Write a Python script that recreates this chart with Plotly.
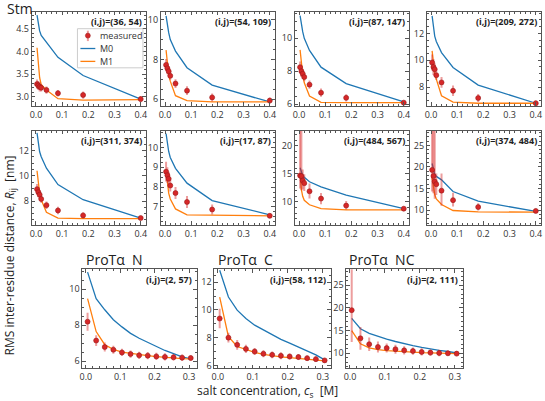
import plotly.graph_objects as go

W, H = 545, 401

# ---------------- data ----------------
x_stm = [0.004, 0.009, 0.014, 0.02, 0.04, 0.084, 0.18, 0.4]
x_prot = [0.005, 0.03, 0.055, 0.08, 0.105, 0.13, 0.155, 0.18, 0.205, 0.23, 0.255, 0.28, 0.305]

# Stm (36, 54)
p1_meas = [3.28, 3.25, 3.22, 3.20, 3.15, 3.08, 3.04, 2.95]
p1_err = [0.10, 0.10, 0.10, 0.08, 0.08, 0.07, 0.08, 0.07]
p1_m0 = [4.80, 4.58, 4.45, 4.35, 4.20, 3.87, 3.47, 2.95]
p1_m1 = [4.08, 3.70, 3.42, 3.27, 3.15, 2.96, 2.93, 2.94]

# Stm (54, 109)
p2_meas = [7.72, 7.55, 7.40, 7.17, 6.78, 6.42, 6.08, 5.92]
p2_err = [0.30, 0.30, 0.25, 0.20, 0.22, 0.22, 0.20, 0.15]
p2_m0 = [10.2, 9.7, 9.35, 9.0, 8.42, 7.58, 6.7, 5.85]
p2_m1 = [8.47, 7.6, 7.2, 6.9, 6.17, 5.92, 5.85, 5.85]

# Stm (87, 147)
p3_meas = [8.25, 8.0, 7.85, 7.65, 7.19, 6.7, 6.39, 6.1]
p3_err = [0.35, 0.35, 0.30, 0.25, 0.25, 0.25, 0.22, 0.15]
p3_m0 = [11.37, 10.8, 10.4, 10.0, 9.26, 8.25, 7.25, 6.15]
p3_m1 = [9.3, 8.4, 7.8, 7.3, 6.5, 6.12, 6.1, 6.1]

# Stm (209, 272)
p4_meas = [9.83, 9.5, 9.33, 8.89, 8.35, 7.73, 7.19, 6.8]
p4_err = [0.6, 0.6, 0.45, 0.35, 0.4, 0.4, 0.3, 0.2]
p4_m0 = [13.3, 12.5, 11.8, 11.4, 10.57, 9.46, 8.15, 6.8]
p4_m1 = [10.7, 9.8, 9.0, 8.6, 7.36, 6.88, 6.8, 6.8]

# Stm (311, 374)
p5_meas = [8.94, 8.7, 8.5, 8.16, 7.67, 7.25, 6.86, 6.65]
p5_err = [0.4, 0.4, 0.35, 0.3, 0.3, 0.3, 0.25, 0.15]
p5_m0 = [13.4, 12.6, 11.9, 11.5, 10.6, 9.3, 8.1, 6.65]
p5_m1 = [10.4, 9.3, 8.6, 8.1, 7.1, 6.65, 6.6, 6.6]

# Stm (17, 87)
p6_meas = [8.78, 8.6, 8.42, 8.08, 7.7, 7.25, 6.87, 6.55]
p6_err = [0.5, 0.4, 0.35, 0.3, 0.3, 0.3, 0.25, 0.12]
p6_m0 = [10.7, 10.2, 9.8, 9.5, 8.95, 8.2, 7.32, 6.6]
p6_m1 = [8.9, 8.2, 7.7, 7.4, 6.9, 6.6, 6.58, 6.55]

# Stm (484, 567)
p7_meas = [14.7, 14.6, 13.8, 13.35, 11.9, 10.6, 9.35, 8.8]
p7_errp = [12.0, 10.0, 2.0, 1.6, 1.4, 1.0, 0.8, 0.4]
p7_errm = [2.3, 2.5, 1.6, 1.4, 1.3, 1.0, 0.7, 0.4]
p7_m0 = [16.1, 15.2, 14.7, 14.4, 13.6, 12.7, 11.2, 8.8]
p7_m1 = [15.1, 12.2, 11.0, 10.3, 9.5, 8.8, 8.6, 8.6]

# Stm (374, 484)
p8_meas = [19.3, 17.9, 16.6, 16.0, 14.5, 12.3, 10.7, 9.8]
p8_errp = [12.0, 12.0, 12.0, 2.5, 4.0, 1.7, 0.9, 0.5]
p8_errm = [5.0, 4.0, 4.0, 2.5, 3.5, 1.5, 0.8, 0.5]
p8_m0 = [20.8, 19.2, 18.3, 17.8, 17.0, 14.3, 12.05, 9.7]
p8_m1 = [17.5, 14.8, 13.6, 12.6, 11.3, 9.9, 9.6, 9.5]

# ProTα N (2, 57)
p9_meas = [8.19, 7.14, 6.78, 6.63, 6.48, 6.39, 6.32, 6.3, 6.26, 6.23, 6.21, 6.19, 6.17]
p9_err = [0.5, 0.3, 0.25, 0.22, 0.2, 0.2, 0.2, 0.2, 0.2, 0.2, 0.18, 0.18, 0.15]
p9_m0 = [10.94, 9.47, 8.85, 8.3, 7.9, 7.54, 7.27, 7.03, 6.81, 6.59, 6.41, 6.23, 6.12]
p9_m1 = [9.47, 7.64, 6.91, 6.65, 6.5, 6.42, 6.35, 6.3, 6.25, 6.2, 6.17, 6.14, 6.12]

# ProTα C (58, 112)
p10_meas = [9.38, 8.0, 7.48, 7.19, 7.0, 6.84, 6.76, 6.69, 6.64, 6.6, 6.52, 6.45, 6.36]
p10_err = [0.7, 0.35, 0.35, 0.3, 0.25, 0.25, 0.25, 0.25, 0.22, 0.22, 0.2, 0.2, 0.15]
p10_m0 = [12.86, 10.93, 9.98, 9.38, 8.9, 8.55, 8.19, 7.88, 7.6, 7.31, 7.05, 6.76, 6.4]
p10_m1 = [10.93, 8.07, 7.36, 7.12, 6.93, 6.8, 6.7, 6.62, 6.56, 6.5, 6.45, 6.4, 6.33]

# ProTα NC (2, 111)
p11_meas = [19.5, 13.3, 12.0, 11.4, 11.15, 10.9, 10.65, 10.5, 10.3, 10.15, 10.07, 10.0, 9.93]
p11_errp = [20.0, 2.5, 1.5, 1.2, 1.0, 1.0, 0.9, 0.8, 0.8, 0.7, 0.7, 0.6, 0.6]
p11_errm = [7.0, 2.5, 1.5, 1.2, 1.0, 1.0, 0.9, 0.8, 0.8, 0.7, 0.7, 0.6, 0.6]
p11_m0 = [17.7, 15.4, 14.4, 13.7, 13.1, 12.6, 12.1, 11.7, 11.3, 10.9, 10.65, 10.4, 10.07]
p11_m1 = [15.0, 12.1, 11.2, 10.8, 10.6, 10.45, 10.35, 10.25, 10.15, 10.1, 10.05, 10.0, 9.95]

labels = ["(i,j)=(36, 54)", "(i,j)=(54, 109)", "(i,j)=(87, 147)", "(i,j)=(209, 272)",
          "(i,j)=(311, 374)", "(i,j)=(17, 87)", "(i,j)=(484, 567)", "(i,j)=(374, 484)",
          "(i,j)=(2, 57)", "(i,j)=(58, 112)", "(i,j)=(2, 111)"]
legend_names = ["measured", "M0", "M1"]

# ---------------- layout geometry (pixels) ----------------
row_tb = {1: (12, 107), 2: (132, 227), 3: (272, 372)}
cols12 = [(29, 144), (159, 274), (294, 409), (427, 542)]
cols3 = [(80, 195), (213, 330), (346, 463)]

panels = [
    dict(x=x_stm, y=p1_meas, ep=p1_err, em=p1_err, m0=p1_m0, m1=p1_m1, row=1, col=cols12[0], yr=[2.80, 4.87], dt=0.5, fmt=".1f", mdt=0.1),
    dict(x=x_stm, y=p2_meas, ep=p2_err, em=p2_err, m0=p2_m0, m1=p2_m1, row=1, col=cols12[1], yr=[5.65, 10.4], dt=2, fmt="d", mdt=0.5),
    dict(x=x_stm, y=p3_meas, ep=p3_err, em=p3_err, m0=p3_m0, m1=p3_m1, row=1, col=cols12[2], yr=[5.9, 11.6], dt=2, fmt="d", mdt=0.5),
    dict(x=x_stm, y=p4_meas, ep=p4_err, em=p4_err, m0=p4_m0, m1=p4_m1, row=1, col=cols12[3], yr=[6.6, 13.6], dt=2, fmt="d", mdt=0.5),
    dict(x=x_stm, y=p5_meas, ep=p5_err, em=p5_err, m0=p5_m0, m1=p5_m1, row=2, col=cols12[0], yr=[6.12, 13.57], dt=2, fmt="d", mdt=0.5),
    dict(x=x_stm, y=p6_meas, ep=p6_err, em=p6_err, m0=p6_m0, m1=p6_m1, row=2, col=cols12[1], yr=[6.1, 10.85], dt=1, fmt="d", mdt=0.25),
    dict(x=x_stm, y=p7_meas, ep=p7_errp, em=p7_errm, m0=p7_m0, m1=p7_m1, row=2, col=cols12[2], yr=[5.94, 22.7], dt=5, fmt="d", mdt=1),
    dict(x=x_stm, y=p8_meas, ep=p8_errp, em=p8_errm, m0=p8_m0, m1=p8_m1, row=2, col=cols12[3], yr=[6.6, 28.4], dt=5, fmt="d", mdt=1),
    dict(x=x_prot, y=p9_meas, ep=p9_err, em=p9_err, m0=p9_m0, m1=p9_m1, row=3, col=cols3[0], yr=[5.6, 11.1], dt=2, fmt="d", mdt=0.5),
    dict(x=x_prot, y=p10_meas, ep=p10_err, em=p10_err, m0=p10_m0, m1=p10_m1, row=3, col=cols3[1], yr=[5.79, 12.93], dt=2, fmt="d", mdt=0.5),
    dict(x=x_prot, y=p11_meas, ep=p11_errp, em=p11_errm, m0=p11_m0, m1=p11_m1, row=3, col=cols3[2], yr=[6.7, 28.5], dt=5, fmt="d", mdt=1),
]

BLUE = "#1f77b4"
ORANGE = "#ff7f0e"
RED = "#d62728"
ERRC = "rgba(214,39,40,0.45)"
FRAME = "#555555"
FONT = "Open Sans"

fig = go.Figure()
layout = dict(width=W, height=H, margin=dict(l=0, r=0, t=0, b=0),
              paper_bgcolor="white", plot_bgcolor="white", showlegend=False,
              font=dict(family=FONT, size=9, color="#333333"))
annotations = []
shapes = []

for i, p in enumerate(panels):
    n = i + 1
    xa = "x" if n == 1 else f"x{n}"
    ya = "y" if n == 1 else f"y{n}"
    xk = "xaxis" if n == 1 else f"xaxis{n}"
    yk = "yaxis" if n == 1 else f"yaxis{n}"
    t, b = row_tb[p["row"]]
    l, r = p["col"]
    xr = [-0.016, 0.42] if p["row"] < 3 else [-0.01, 0.322]
    common = dict(showline=True, linecolor=FRAME, linewidth=1, mirror="allticks",
                  ticks="inside", ticklen=3.5, tickwidth=1, tickcolor=FRAME,
                  showgrid=False, zeroline=False,
                  tickfont=dict(family=FONT, size=9, color="#333333"))
    layout[xk] = dict(domain=[l / W, r / W], range=xr, anchor=ya, dtick=0.1, tick0=0,
                      tickformat=".1f",
                      minor=dict(ticks="inside", ticklen=2, tickcolor=FRAME, dtick=0.02, showgrid=False),
                      **common)
    layout[yk] = dict(domain=[1 - b / H, 1 - t / H], range=p["yr"], anchor=xa, dtick=p["dt"], tick0=0,
                      tickformat=p["fmt"],
                      minor=dict(ticks="inside", ticklen=2, tickcolor=FRAME, dtick=p["mdt"], showgrid=False),
                      **common)
    fig.add_trace(go.Scatter(x=p["x"], y=p["m0"], mode="lines", name=legend_names[1],
                             line=dict(color=BLUE, width=1.3), xaxis=xa, yaxis=ya))
    fig.add_trace(go.Scatter(x=p["x"], y=p["m1"], mode="lines", name=legend_names[2],
                             line=dict(color=ORANGE, width=1.3), xaxis=xa, yaxis=ya))
    fig.add_trace(go.Scatter(x=p["x"], y=p["y"], mode="markers", name=legend_names[0],
                             marker=dict(color=RED, size=5, line=dict(color="#9b1b1b", width=0.6)),
                             error_y=dict(type="data", array=p["ep"], arrayminus=p["em"], symmetric=False,
                                          color=ERRC, thickness=2, width=0),
                             xaxis=xa, yaxis=ya))
    annotations.append(dict(text="<b>" + labels[i] + "</b>", xref=f"{xa} domain", yref=f"{ya} domain",
                            x=0.97, y=0.895, xanchor="right", yanchor="middle", showarrow=False,
                            borderpad=0,
                            font=dict(family=FONT, size=9, color="#222222")))


def px(v):
    return v / W


def py(v):
    return 1 - v / H


def txt(s, x0, y0, size, xanchor="left", angle=0, color="#222222", pad=1):
    annotations.append(dict(text=s, xref="paper", yref="paper", x=px(x0), y=py(y0),
                            xanchor=xanchor, yanchor="middle", showarrow=False, textangle=angle,
                            borderpad=pad,
                            font=dict(family=FONT, size=size, color=color)))


# figure texts
txt("Stm", 2, 9, 14)
txt("ProTα  N", 82, 262, 14)
txt("ProTα  C", 215, 262, 14)
txt("ProTα  NC", 347, 262, 14)
txt("salt concentration, <i>c</i><sub>s</sub>  [M]", 266, 394.5, 12, xanchor="center")
txt("RMS inter-residue distance, <i>R</i><sub>ij</sub>  [nm]", 7, 258, 12, xanchor="center", angle=-90)

# legend (drawn in the first panel, matplotlib-style compact box)
shapes.append(dict(type="rect", xref="paper", yref="paper", x0=px(75), x1=px(141), y0=py(68.5), y1=py(29),
                   fillcolor="rgba(255,255,255,0.85)", line=dict(color="#cccccc", width=1)))
shapes.append(dict(type="line", xref="paper", yref="paper", x0=px(85.5), x1=px(85.5), y0=py(41.5), y1=py(31),
                   line=dict(color=ERRC, width=2)))
shapes.append(dict(type="circle", xref="paper", yref="paper", x0=px(83), x1=px(88), y0=py(38.5), y1=py(33.5),
                   fillcolor=RED, line=dict(color="#9b1b1b", width=0.6)))
shapes.append(dict(type="line", xref="paper", yref="paper", x0=px(78), x1=px(93), y0=py(49), y1=py(49),
                   line=dict(color=BLUE, width=1.3)))
shapes.append(dict(type="line", xref="paper", yref="paper", x0=px(78), x1=px(93), y0=py(62), y1=py(62),
                   line=dict(color=ORANGE, width=1.3)))
txt(legend_names[0], 97, 36, 9, color="#333333", pad=0)
txt(legend_names[1], 97, 49, 9, color="#333333", pad=0)
txt(legend_names[2], 97, 62, 9, color="#333333", pad=0)

layout["annotations"] = annotations
layout["shapes"] = shapes
fig.update_layout(**layout)
fig.write_html("out.html")
